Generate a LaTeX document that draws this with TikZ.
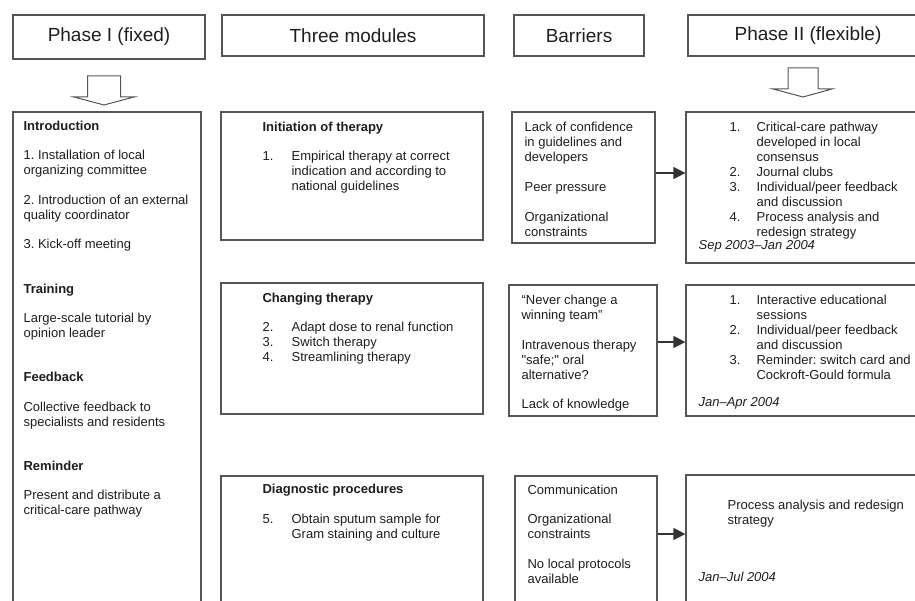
\documentclass[tikz,border=0pt]{standalone}
\usepackage{fontspec}
\setmainfont{Liberation Sans}
\usetikzlibrary{positioning,arrows.meta}
\definecolor{boxline}{HTML}{555555}
\definecolor{ink}{HTML}{1E1E1E}
\frenchspacing
\tikzset{
  box/.style={draw=boxline, line width=1.2pt, inner sep=0pt},
  hdr/.style={box, font=\fontsize{19}{22}\selectfont, text=ink},
  txt/.style={anchor=north west, inner sep=0pt, text=ink, font=\fontsize{13}{15}\selectfont},
  hollow/.style={draw=boxline, line width=1pt, fill=white},
  arr/.style={draw=black!80, line width=1.2pt, -{Triangle[length=12pt,width=12pt]}}
}
\begin{document}
\begin{tikzpicture}[x=1pt,y=-1pt]
\useasboundingbox (0,0) rectangle (915,601);
\clip (0,0) rectangle (915,601);
\fill[white] (0,0) rectangle (915,601);

% column headers
\node[hdr, minimum width=192, minimum height=44] (hdrI) at (109,37) {Phase I (fixed)};
\node[hdr, minimum width=262, minimum height=41] (hdrM) at (353,35.5) {Three modules};
\node[hdr, minimum width=130, minimum height=41] (hdrB) at (579,35.5) {Barriers};
\node[hdr, minimum width=240, minimum height=41] (hdrP) at (808,35.5) {Phase II (flexible)};

% hollow arrows
\draw[hollow] (87.5,76) -- (120.5,76) -- (120.5,97) -- (134,97) -- (104,105) -- (74,97) -- (87.5,97) -- cycle;
\draw[hollow] (788,68) -- (818,68) -- (818,89) -- (832,89) -- (803,97) -- (773,89) -- (788,89) -- cycle;

% phase I
\node[box, minimum width=188, minimum height=508] (intro) at (107,366) {};
\node[txt] (introtxt) at ([xshift=11pt,yshift=-8pt]intro.north west) {%
\begin{tabular}{@{}l@{}}
\textbf{Introduction}\\[14.5pt]
1. Installation of local\\
organizing committee\\[14.5pt]
2. Introduction of an external\\
quality coordinator\\[14.5pt]
3. Kick-off meeting\\[29.5pt]
\textbf{Training}\\[14.5pt]
Large-scale tutorial by\\
opinion leader\\[29pt]
\textbf{Feedback}\\[14.5pt]
Collective feedback to\\
specialists and residents\\[29pt]
\textbf{Reminder}\\[14.5pt]
Present and distribute a\\
critical-care pathway
\end{tabular}};

% modules
\node[box, minimum width=262, minimum height=128] (modA) at (352,176) {};
\node[box, minimum width=262, minimum height=131] (modB) at (352,348.5) {};
\node[box, minimum width=262, minimum height=144] (modC) at (352,548) {};
\node[txt] (modAtxt) at ([xshift=42pt,yshift=-9pt]modA.north west) {%
\begin{tabular}{@{}p{29pt}@{}l@{}}
\multicolumn{2}{@{}l@{}}{\textbf{Initiation of therapy}}\\[14pt]
1. & Empirical therapy at correct\\
   & indication and according to\\
   & national guidelines
\end{tabular}};
\node[txt] (modBtxt) at ([xshift=42pt,yshift=-9pt]modB.north west) {%
\begin{tabular}{@{}p{29pt}@{}l@{}}
\multicolumn{2}{@{}l@{}}{\textbf{Changing therapy}}\\[14pt]
2. & Adapt dose to renal function\\
3. & Switch therapy\\
4. & Streamlining therapy
\end{tabular}};
\node[txt] (modCtxt) at ([xshift=42pt,yshift=-7pt]modC.north west) {%
\begin{tabular}{@{}p{29pt}@{}l@{}}
\multicolumn{2}{@{}l@{}}{\textbf{Diagnostic procedures}}\\[15pt]
5. & Obtain sputum sample for\\
   & Gram staining and culture
\end{tabular}};

% barriers
\node[box, minimum width=143, minimum height=131] (barA) at (583.5,177.5) {};
\node[box, minimum width=148, minimum height=131] (barB) at (583,350.5) {};
\node[box, minimum width=142, minimum height=144] (barC) at (586,548) {};
\node[txt] (barAtxt) at ([xshift=13pt,yshift=-9pt]barA.north west) {%
\begin{tabular}{@{}l@{}}
Lack of confidence\\
in guidelines and\\
developers\\[15pt]
Peer pressure\\[15pt]
Organizational\\
constraints
\end{tabular}};
\node[txt] (barBtxt) at ([xshift=13pt,yshift=-9pt]barB.north west) {%
\begin{tabular}{@{}l@{}}
“Never change a\\
winning team”\\[15pt]
Intravenous therapy\\
\textquotedbl safe;\textquotedbl{} oral\\
alternative?\\[14pt]
Lack of knowledge
\end{tabular}};
\node[txt] (barCtxt) at ([xshift=13pt,yshift=-8pt]barC.north west) {%
\begin{tabular}{@{}l@{}}
Communication\\[14pt]
Organizational\\
constraints\\[15pt]
No local protocols\\
available
\end{tabular}};

% phase II
\node[box, minimum width=242, minimum height=151] (flexA) at (807,187.5) {};
\node[box, minimum width=242, minimum height=131] (flexB) at (807,350.5) {};
\node[box, minimum width=242, minimum height=145] (flexC) at (807,547.5) {};
\node[txt] (flexAtxt) at ([xshift=44pt,yshift=-9pt]flexA.north west) {%
\begin{tabular}{@{}p{27pt}@{}l@{}}
1. & Critical-care pathway\\
   & developed in local\\
   & consensus\\
2. & Journal clubs\\
3. & Individual/peer feedback\\
   & and discussion\\
4. & Process analysis and\\
   & redesign strategy
\end{tabular}};
\node[txt] (flexAdate) at ([xshift=13pt,yshift=-129pt]flexA.north west) {\textit{Sep 2003–Jan 2004}};
\node[txt] (flexBtxt) at ([xshift=44pt,yshift=-9pt]flexB.north west) {%
\begin{tabular}{@{}p{27pt}@{}l@{}}
1. & Interactive educational\\
   & sessions\\
2. & Individual/peer feedback\\
   & and discussion\\
3. & Reminder: switch card and\\
   & Cockroft-Gould formula
\end{tabular}};
\node[txt] (flexBdate) at ([xshift=13pt,yshift=-113pt]flexB.north west) {\textit{Jan–Apr 2004}};
\node[txt] (flexCtxt) at ([xshift=42pt,yshift=-24pt]flexC.north west) {%
\begin{tabular}{@{}l@{}}
Process analysis and redesign\\
strategy
\end{tabular}};
\node[txt] (flexCdate) at ([xshift=13pt,yshift=-97pt]flexC.north west) {\textit{Jan–Jul 2004}};

% barriers to phase II
\draw[arr] ([yshift=4.5pt]barA.east) -- ([yshift=4.5pt]barA.east -| flexA.west);
\draw[arr] ([yshift=8.5pt]barB.east) -- ([yshift=8.5pt]barB.east -| flexB.west);
\draw[arr] ([yshift=14pt]barC.east) -- ([yshift=14pt]barC.east -| flexC.west);
\end{tikzpicture}
\end{document}
